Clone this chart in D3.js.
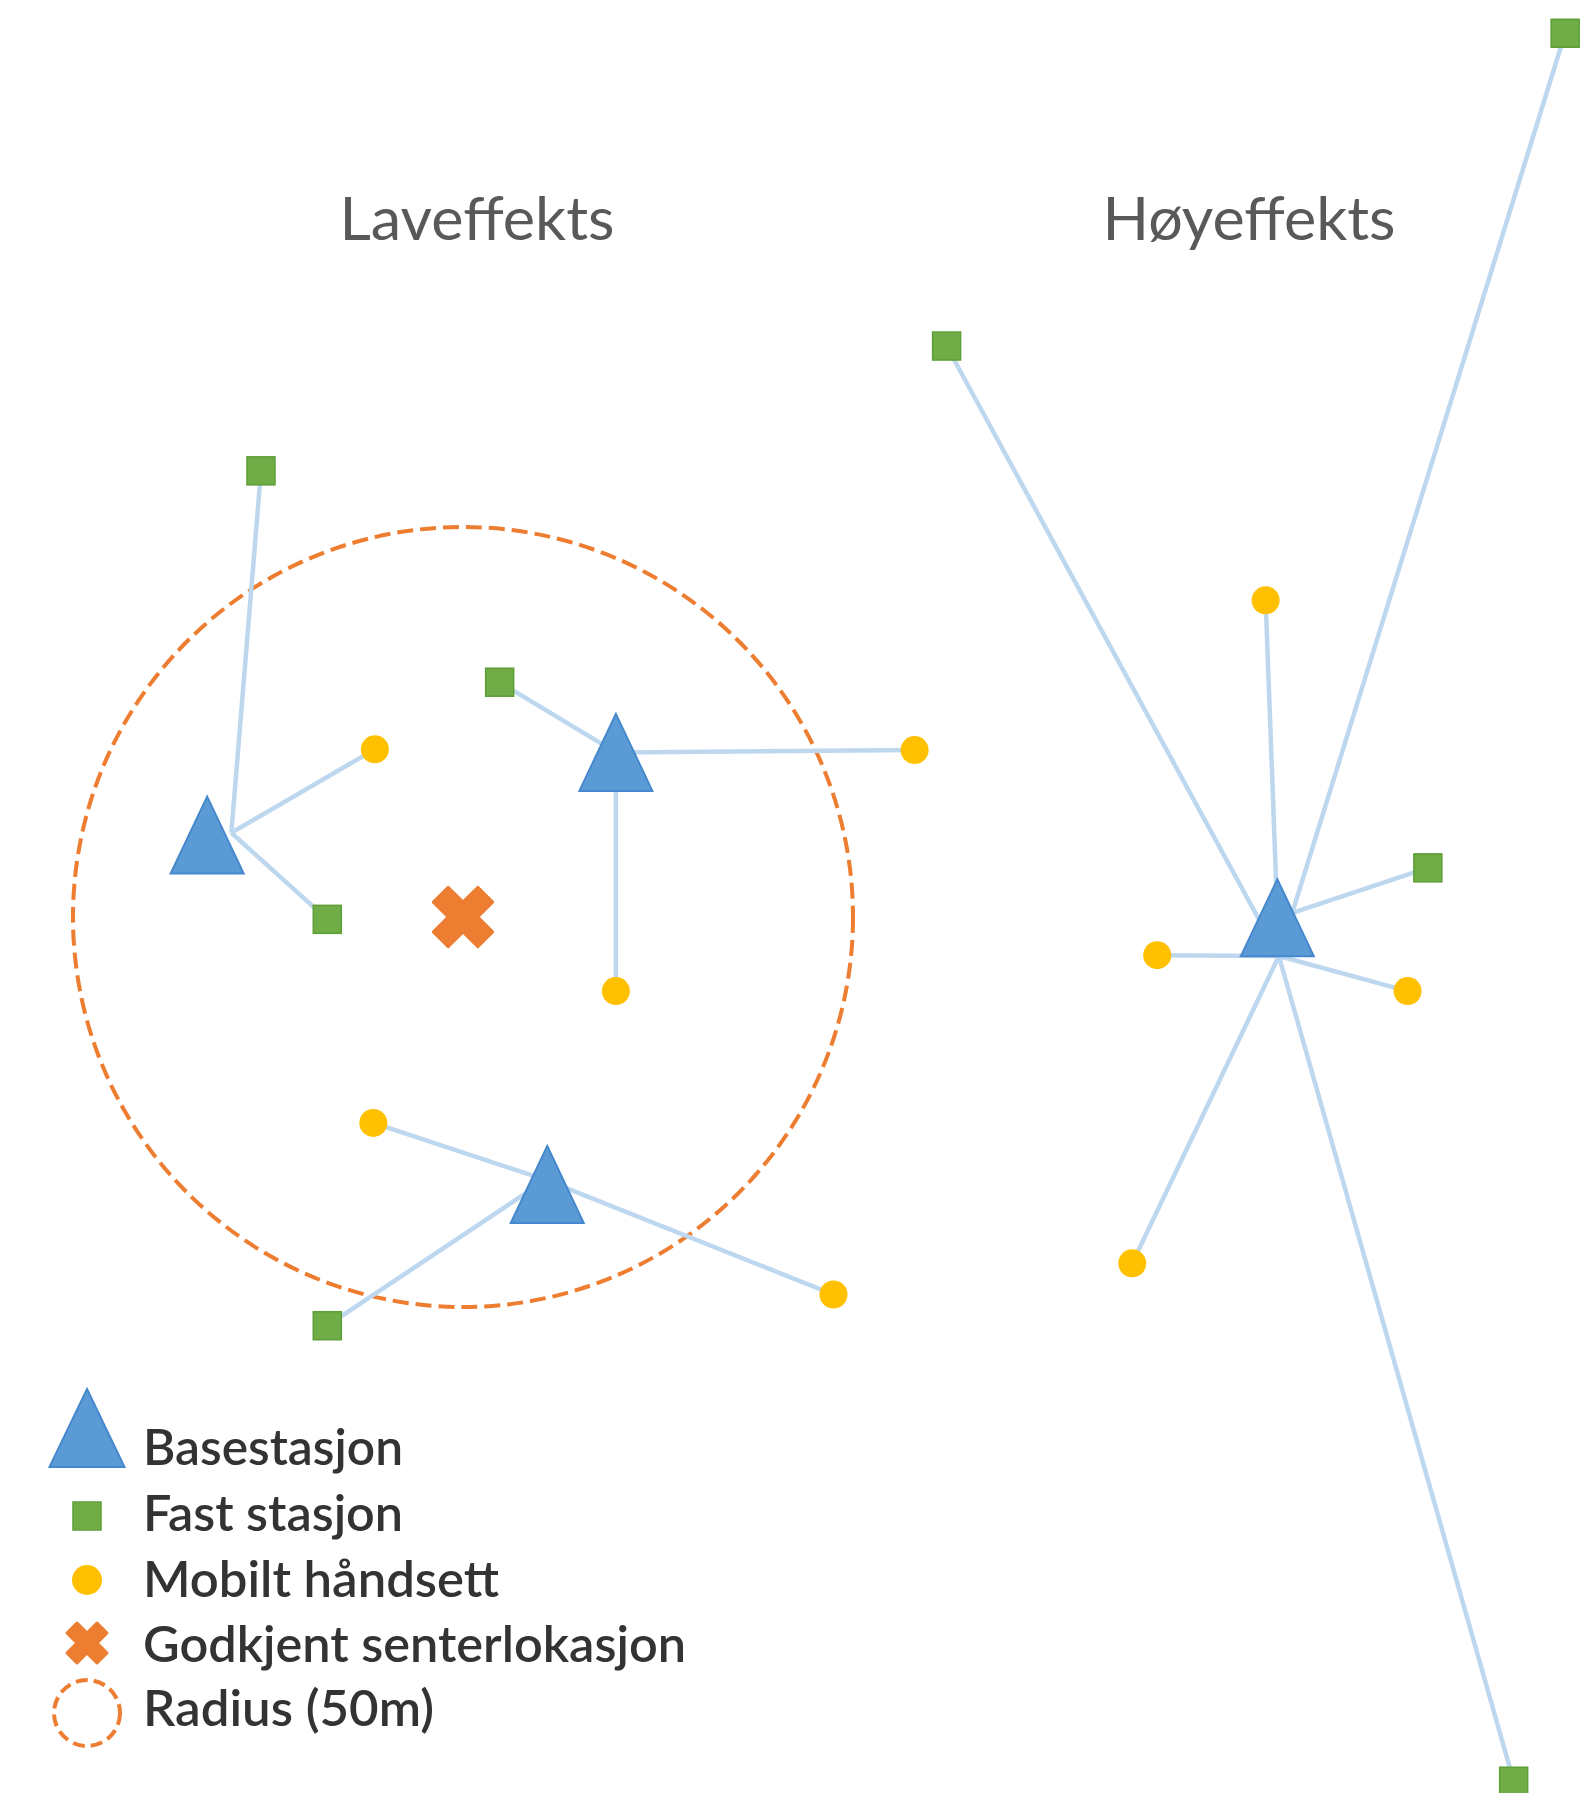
<!DOCTYPE html>
<html>
<head>
<meta charset="utf-8">
<script src="https://cdn.jsdelivr.net/npm/d3@7"></script>
<style>
  body { margin: 0; background: #fff; }
  svg { display: block; }
</style>
</head>
<body>
<div id="chart"></div>
<script>
// Positions in metres, origin at the approved centre location (y points north)
const panelTitles = ["Laveffekts", "Høyeffekts"];

const stations = [
    { id: "A", x: -32.8, y: 10.5, hx: -29.7, hy: 10.8 },
    { id: "B", x: 19.6, y: 21.1, hx: 19.6, hy: 21.1 },
    { id: "C", x: 10.8, y: -34.3, hx: 10.6, hy: -33.7 },
    { id: "D", x: 104.4, y: -0.1, hx: 104.6, hy: -5.0 }
];

// fromX/fromY: link attaches somewhere else than the station's usual hub
const fixedStations = [
    { base: "A", x: -25.9, y: 57.2 },
    { base: "A", x: -17.4, y: -0.3 },
    { base: "B", x: 4.7, y: 30.1 },
    { base: "C", x: -17.4, y: -52.4 },
    { base: "D", x: 62.0, y: 73.2 },
    { base: "D", x: 141.3, y: 113.3 },
    { base: "D", x: 123.7, y: 6.3, fromX: 104.4, fromY: -0.1 },
    { base: "D", x: 134.7, y: -110.8 }
];

const handsets = [
    { base: "A", x: -11.3, y: 21.5 },
    { base: "B", x: 57.9, y: 21.4 },
    { base: "B", x: 19.6, y: -9.5 },
    { base: "C", x: -11.5, y: -26.4 },
    { base: "C", x: 47.5, y: -48.4 },
    { base: "D", x: 102.9, y: 40.6 },
    { base: "D", x: 89.0, y: -4.9 },
    { base: "D", x: 121.1, y: -9.5 },
    { base: "D", x: 85.8, y: -44.4 }
];

const approvedCenters = [{ x: 0, y: 0 }];
const radiusMetres = 50;

const legendLabels = ["Basestasjon", "Fast stasjon", "Mobilt håndsett", "Godkjent senterlokasjon", "Radius (50m)"];

const width = 1588;
const height = 1793;

const colors = {
    base: "#5b9bd5", baseStroke: "#4688cd",
    fixed: "#70ad47", fixedStroke: "#5e9e37",
    handset: "#ffc000",
    center: "#ed7d31",
    link: "#bdd7ee",
    text: "#595959", legendText: "#333333"
};

const svg = d3.select("#chart")
    .append("svg")
    .attr("width", width)
    .attr("height", height);

svg.append("rect").attr("width", width).attr("height", height).attr("fill", "#fff");

// metres -> pixels
const x = d3.scaleLinear().domain([0, 50]).range([463, 853]);
const y = d3.scaleLinear().domain([0, 50]).range([917, 527]);

// triangle shape (wider base, slightly taller than equilateral)
function trianglePath(w, h) {
    return d3.line()([[0, -h / 2], [w / 2, h / 2], [-w / 2, h / 2]]) + "Z";
}
const crossPath = s => d3.symbol(d3.symbolCross, s)();

// Titles
const titleLayout = [{ cx: 477, w: 275 }, { cx: 1249, w: 293 }];
svg.selectAll(".title")
    .data(panelTitles)
    .enter()
    .append("text")
    .attr("class", "title")
    .attr("x", (d, i) => titleLayout[i].cx)
    .attr("y", 240)
    .attr("text-anchor", "middle")
    .attr("font-family", "Lato, 'Open Sans', sans-serif")
    .attr("font-size", 60)
    .attr("fill", colors.text)
    .attr("textLength", (d, i) => titleLayout[i].w)
    .attr("lengthAdjust", "spacingAndGlyphs")
    .text(d => d);

// Radius circle
svg.selectAll(".radius")
    .data(approvedCenters)
    .enter()
    .append("circle")
    .attr("class", "radius")
    .attr("cx", d => x(d.x))
    .attr("cy", d => y(d.y))
    .attr("r", x(radiusMetres) - x(0))
    .attr("fill", "none")
    .attr("stroke", colors.center)
    .attr("stroke-width", 4)
    .attr("stroke-dasharray", "16 7");

// Links
const byId = new Map(stations.map(s => [s.id, s]));
const links = fixedStations.concat(handsets);
svg.selectAll(".link")
    .data(links)
    .enter()
    .append("line")
    .attr("class", "link")
    .attr("x1", d => x(d.fromX !== undefined ? d.fromX : byId.get(d.base).hx))
    .attr("y1", d => y(d.fromY !== undefined ? d.fromY : byId.get(d.base).hy))
    .attr("x2", d => x(d.x))
    .attr("y2", d => y(d.y))
    .attr("stroke", colors.link)
    .attr("stroke-width", 4.5);

// Approved centre
svg.selectAll(".center")
    .data(approvedCenters)
    .enter()
    .append("path")
    .attr("class", "center")
    .attr("d", crossPath(2200))
    .attr("transform", d => `translate(${x(d.x)},${y(d.y)}) rotate(45)`)
    .attr("fill", colors.center)
    .attr("stroke", colors.center)
    .attr("stroke-width", 3)
    .attr("stroke-linejoin", "round");

// Handsets
svg.selectAll(".handset")
    .data(handsets)
    .enter()
    .append("circle")
    .attr("class", "handset")
    .attr("cx", d => x(d.x))
    .attr("cy", d => y(d.y))
    .attr("r", 14)
    .attr("fill", colors.handset);

// Fixed stations
const sq = 28;
svg.selectAll(".fixed")
    .data(fixedStations)
    .enter()
    .append("rect")
    .attr("class", "fixed")
    .attr("x", d => x(d.x) - sq / 2)
    .attr("y", d => y(d.y) - sq / 2)
    .attr("width", sq)
    .attr("height", sq)
    .attr("fill", colors.fixed)
    .attr("stroke", colors.fixedStroke)
    .attr("stroke-width", 1.5);

// Base stations
svg.selectAll(".base")
    .data(stations)
    .enter()
    .append("path")
    .attr("class", "base")
    .attr("d", trianglePath(73, 77))
    .attr("transform", d => `translate(${x(d.x)},${y(d.y)})`)
    .attr("fill", colors.base)
    .attr("stroke", colors.baseStroke)
    .attr("stroke-width", 2);

// Legend
const legend = svg.append("g").attr("class", "legend");
const rowY = [1465, 1531, 1597, 1662, 1726];
const textW = [260, 260, 356, 543, 291];
const symX = 87;

legend.append("path")
    .attr("d", trianglePath(75, 78))
    .attr("transform", `translate(${symX},1428)`)
    .attr("fill", colors.base)
    .attr("stroke", colors.baseStroke)
    .attr("stroke-width", 2);

legend.append("rect")
    .attr("x", symX - 14).attr("y", 1516 - 14)
    .attr("width", 28).attr("height", 28)
    .attr("fill", colors.fixed)
    .attr("stroke", colors.fixedStroke)
    .attr("stroke-width", 1.5);

legend.append("circle")
    .attr("cx", symX).attr("cy", 1580).attr("r", 15)
    .attr("fill", colors.handset);

legend.append("path")
    .attr("d", crossPath(1000))
    .attr("transform", `translate(${symX},1643) rotate(45)`)
    .attr("fill", colors.center)
    .attr("stroke", colors.center)
    .attr("stroke-width", 3)
    .attr("stroke-linejoin", "round");

legend.append("circle")
    .attr("cx", symX).attr("cy", 1713).attr("r", 33)
    .attr("fill", "none")
    .attr("stroke", colors.center)
    .attr("stroke-width", 4)
    .attr("stroke-dasharray", "12 6");

legend.selectAll(".legend-label")
    .data(legendLabels)
    .enter()
    .append("text")
    .attr("class", "legend-label")
    .attr("x", 143)
    .attr("y", (d, i) => rowY[i])
    .attr("font-family", "Lato, 'Open Sans', sans-serif")
    .attr("font-size", 50)
    .attr("font-weight", 600)
    .attr("fill", colors.legendText)
    .attr("textLength", (d, i) => textW[i])
    .attr("lengthAdjust", "spacingAndGlyphs")
    .text(d => d);
</script>
</body>
</html>
